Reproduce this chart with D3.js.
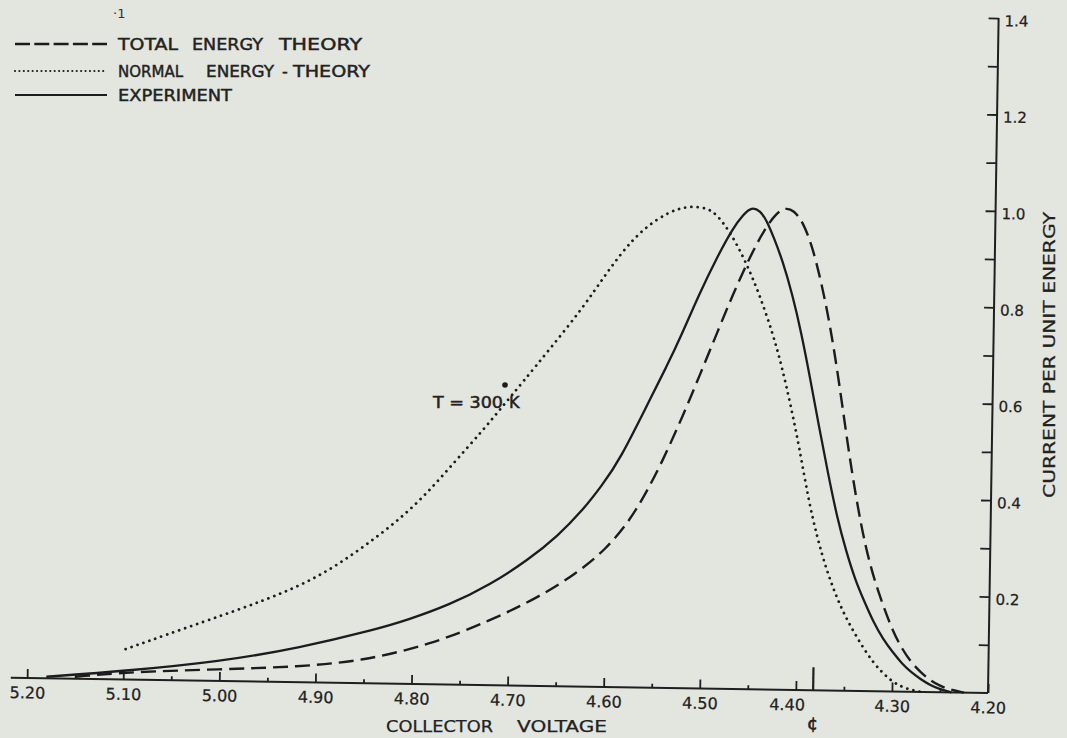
<!DOCTYPE html>
<meta charset="utf-8">
<script src="https://d3js.org/d3.v7.min.js"></script>
<style>
body { margin:0; background:#e2e6df; }
svg { display:block; }
text { font-family:"DejaVu Sans", sans-serif; fill:#222; stroke:#222; stroke-width:0.25px; }
.axis path { display:none; }
.axis line { stroke:#1f1f1f; stroke-width:1.8; }
.xlab text { font-size:16px; }
.ylab text { font-size:15px; }
.curve { fill:none; stroke:#1c1c1c; }
.total { stroke-width:2.4; stroke-dasharray:15 7; }
.normal { stroke-width:2.8; stroke-dasharray:0.01 6.3; stroke-linecap:round; }
.experiment { stroke-width:2.3; }
.legend text { font-size:16px; stroke-width:0.45px; }
</style>
<body></body>
<script>

// collector voltage ticks (axis runs from 5.20 on the left down to 4.20 on the right)
var voltageTicks = [5.20, 5.10, 5.00, 4.90, 4.80, 4.70, 4.60, 4.50, 4.40, 4.30, 4.20];
var voltageLabels = ["5.20", "5.10", "5.00", "4.90", "4.80", "4.70", "4.60", "4.50", "4.40", "4.30", "4.20"];
var voltageMinor = [5.15, 5.05, 4.95, 4.85, 4.75, 4.65, 4.55, 4.45, 4.35, 4.25];
var fermiVoltage = 4.382;
var fermiLabel = "¢";

// current per unit energy ticks
var currentTicks = [0.1, 0.2, 0.3, 0.4, 0.5, 0.6, 0.7, 0.8, 0.9, 1.0, 1.1, 1.2, 1.3, 1.4];
var currentLabelTicks = [0.2, 0.4, 0.6, 0.8, 1.0, 1.2, 1.4];
var currentLabels = ["0.2", "0.4", "0.6", "0.8", "1.0", "1.2", "1.4"];

// [voltage, current]
var totalEnergy = [
  [5.150, 0.004], [5.091, 0.016], [5.000, 0.024], [4.917, 0.032], [4.852, 0.046],
  [4.781, 0.082], [4.720, 0.133], [4.668, 0.185], [4.630, 0.235], [4.600, 0.285],
  [4.576, 0.345], [4.560, 0.400], [4.542, 0.472], [4.522, 0.565], [4.505, 0.650],
  [4.488, 0.737], [4.472, 0.818], [4.455, 0.896], [4.440, 0.955], [4.428, 0.988],
  [4.419, 1.000], [4.410, 0.995], [4.400, 0.970], [4.390, 0.920], [4.380, 0.845],
  [4.370, 0.755], [4.360, 0.640], [4.350, 0.510], [4.340, 0.395], [4.330, 0.300],
  [4.320, 0.230], [4.310, 0.175], [4.300, 0.125], [4.290, 0.088], [4.280, 0.060],
  [4.270, 0.040], [4.260, 0.024], [4.250, 0.013], [4.240, 0.006], [4.225, 0.000]
];

var normalEnergy = [
  [5.098, 0.063], [5.015, 0.124], [4.953, 0.169], [4.898, 0.218], [4.850, 0.285],
  [4.800, 0.365], [4.757, 0.466], [4.730, 0.528], [4.710, 0.578], [4.689, 0.630],
  [4.662, 0.698], [4.628, 0.785], [4.604, 0.858], [4.577, 0.932], [4.550, 0.976],
  [4.530, 0.995], [4.515, 1.000], [4.500, 0.996], [4.490, 0.984], [4.475, 0.945],
  [4.460, 0.890], [4.445, 0.823], [4.430, 0.740], [4.420, 0.672], [4.410, 0.590],
  [4.400, 0.500], [4.390, 0.395], [4.380, 0.315], [4.370, 0.250], [4.360, 0.198],
  [4.350, 0.155], [4.340, 0.120], [4.330, 0.088], [4.320, 0.060], [4.310, 0.038],
  [4.300, 0.021], [4.290, 0.010], [4.280, 0.004], [4.270, 0.000]
];

var experiment = [
  [5.180, 0.003], [5.096, 0.018], [5.000, 0.040], [4.917, 0.071], [4.836, 0.113],
  [4.806, 0.132], [4.762, 0.165], [4.720, 0.208], [4.680, 0.262], [4.650, 0.312],
  [4.625, 0.365], [4.605, 0.418], [4.587, 0.471], [4.557, 0.596], [4.540, 0.665],
  [4.524, 0.736], [4.507, 0.818], [4.489, 0.895], [4.473, 0.956], [4.462, 0.985],
  [4.454, 1.000], [4.445, 0.993], [4.438, 0.973], [4.430, 0.936], [4.421, 0.891],
  [4.410, 0.820], [4.400, 0.740], [4.390, 0.645], [4.380, 0.545], [4.370, 0.450],
  [4.360, 0.360], [4.350, 0.290], [4.340, 0.230], [4.330, 0.185], [4.320, 0.142],
  [4.310, 0.108], [4.300, 0.082], [4.290, 0.058], [4.280, 0.040], [4.270, 0.026],
  [4.260, 0.014], [4.250, 0.006], [4.238, 0.000]
];

var legendWords = [
  ["TOTAL", "ENERGY", "THEORY"],
  ["NORMAL", "ENERGY", "-", "THEORY"],
  ["EXPERIMENT"]
];
var tempLabel = "T = 300";
var tempUnit = "K";
var xTitle = ["COLLECTOR", "VOLTAGE"];
var yTitle = "CURRENT PER UNIT ENERGY";

var width = 1067, height = 738;

var svg = d3.select("body").append("svg")
  .attr("width", width)
  .attr("height", height);

svg.append("rect").attr("width", width).attr("height", height).attr("fill", "#e2e6df");

// the scanned drawing sits slightly tilted
var plot = svg.append("g").attr("transform", "rotate(0.9,988,693)");

var x = d3.scaleLinear().domain([5.20, 4.20]).range([27, 988]);
var y = d3.scaleLinear().domain([0, 1.4]).range([693, 18]);

// x axis
plot.append("line")
  .attr("x1", x(5.217)).attr("x2", x(4.20))
  .attr("y1", y(0)).attr("y2", y(0))
  .attr("stroke", "#1f1f1f").attr("stroke-width", 2);

plot.append("g")
  .attr("class", "axis xlab")
  .attr("transform", "translate(0," + y(0) + ")")
  .call(d3.axisBottom(x)
    .tickValues(voltageTicks)
    .tickSizeInner(-9).tickSizeOuter(0).tickPadding(9)
    .tickFormat(function(d, i) { return voltageLabels[i]; }))
  .selectAll("text")
  .attr("dx", function(d) { return Math.abs(d - 4.40) < 1e-6 ? -9 : 0; });

plot.append("g")
  .attr("class", "axis")
  .attr("transform", "translate(0," + y(0) + ")")
  .call(d3.axisBottom(x)
    .tickValues(voltageMinor)
    .tickSizeInner(-4).tickSizeOuter(0)
    .tickFormat(""));

plot.append("line")
  .attr("x1", x(fermiVoltage)).attr("x2", x(fermiVoltage))
  .attr("y1", y(0)).attr("y2", y(0) - 23)
  .attr("stroke", "#1f1f1f").attr("stroke-width", 2.2);

plot.append("text")
  .attr("x", x(fermiVoltage)).attr("y", y(0) + 39)
  .attr("text-anchor", "middle")
  .style("font-size", "17px")
  .style("stroke-width", "0.6px")
  .text(fermiLabel);

// y axis on the right
plot.append("line")
  .attr("x1", x(4.20)).attr("x2", x(4.20))
  .attr("y1", y(0)).attr("y2", y(1.4))
  .attr("stroke", "#1f1f1f").attr("stroke-width", 2);

plot.append("g")
  .attr("class", "axis")
  .attr("transform", "translate(" + x(4.20) + ",0)")
  .call(d3.axisRight(y)
    .tickValues(currentTicks)
    .tickSizeInner(-10).tickSizeOuter(0)
    .tickFormat(""));

plot.append("g")
  .attr("class", "axis ylab")
  .attr("transform", "translate(" + x(4.20) + ",0)")
  .call(d3.axisRight(y)
    .tickValues(currentLabelTicks)
    .tickSizeInner(0).tickSizeOuter(0).tickPadding(6)
    .tickFormat(function(d, i) { return currentLabels[i]; }))
  .selectAll("text").attr("dy", "0.5em");

// curves
var line = d3.line()
  .x(function(d) { return x(d[0]); })
  .y(function(d) { return y(d[1]); })
  .curve(d3.curveBasis);

plot.append("path").datum(totalEnergy).attr("class", "curve total").attr("d", line);
plot.append("path").datum(normalEnergy).attr("class", "curve normal").attr("d", line);
plot.append("path").datum(experiment).attr("class", "curve experiment").attr("d", line);

// legend (typed on level)
var legendRows = [
  { y: 44, dash: "15 4.3", w: 2.3, cap: "butt", starts: [118, 192, 279], ends: [178, 263, 362] },
  { y: 71, dash: "0.01 4.4", w: 2.2, cap: "round", starts: [118, 206, 282, 293], ends: [183, 274, 288, 370] },
  { y: 95, dash: null, w: 2.2, cap: "butt", starts: [118], ends: [232] }
];

var legend = svg.append("g").attr("class", "legend");

legendRows.forEach(function(r, i) {
  legend.append("line")
    .attr("x1", 15).attr("x2", 107).attr("y1", r.y).attr("y2", r.y)
    .attr("stroke", "#1c1c1c").attr("stroke-width", r.w)
    .attr("stroke-linecap", r.cap)
    .attr("stroke-dasharray", r.dash);
  legendWords[i].forEach(function(w, j) {
    var t = legend.append("text")
      .attr("x", r.starts[j]).attr("y", r.y + 6)
      .text(w);
    if (w.length > 1) t.attr("textLength", r.ends[j] - r.starts[j]).attr("lengthAdjust", "spacingAndGlyphs");
  });
});

svg.append("text")
  .attr("x", 113).attr("y", 18)
  .style("font-size", "13px").style("fill", "#333").style("stroke", "none")
  .text("·1");

// temperature note
svg.append("text")
  .attr("x", 433).attr("y", 408)
  .attr("textLength", 70).attr("lengthAdjust", "spacingAndGlyphs")
  .style("font-size", "16px").style("stroke-width", "0.5px")
  .text(tempLabel);
svg.append("circle").attr("cx", 505).attr("cy", 385).attr("r", 2.8).attr("fill", "#1c1c1c");
svg.append("text")
  .attr("x", 509).attr("y", 408)
  .style("font-size", "16px").style("stroke-width", "0.5px")
  .text(tempUnit);

// axis titles
svg.append("text")
  .attr("x", 386).attr("y", 732)
  .attr("textLength", 107).attr("lengthAdjust", "spacingAndGlyphs")
  .style("font-size", "15px")
  .text(xTitle[0]);
svg.append("text")
  .attr("x", 517).attr("y", 732)
  .attr("textLength", 90).attr("lengthAdjust", "spacingAndGlyphs")
  .style("font-size", "15px")
  .text(xTitle[1]);

svg.append("text")
  .attr("transform", "translate(1055,355) rotate(-90)")
  .attr("text-anchor", "middle")
  .attr("textLength", 286).attr("lengthAdjust", "spacingAndGlyphs")
  .style("font-size", "16px")
  .text(yTitle);

</script>
